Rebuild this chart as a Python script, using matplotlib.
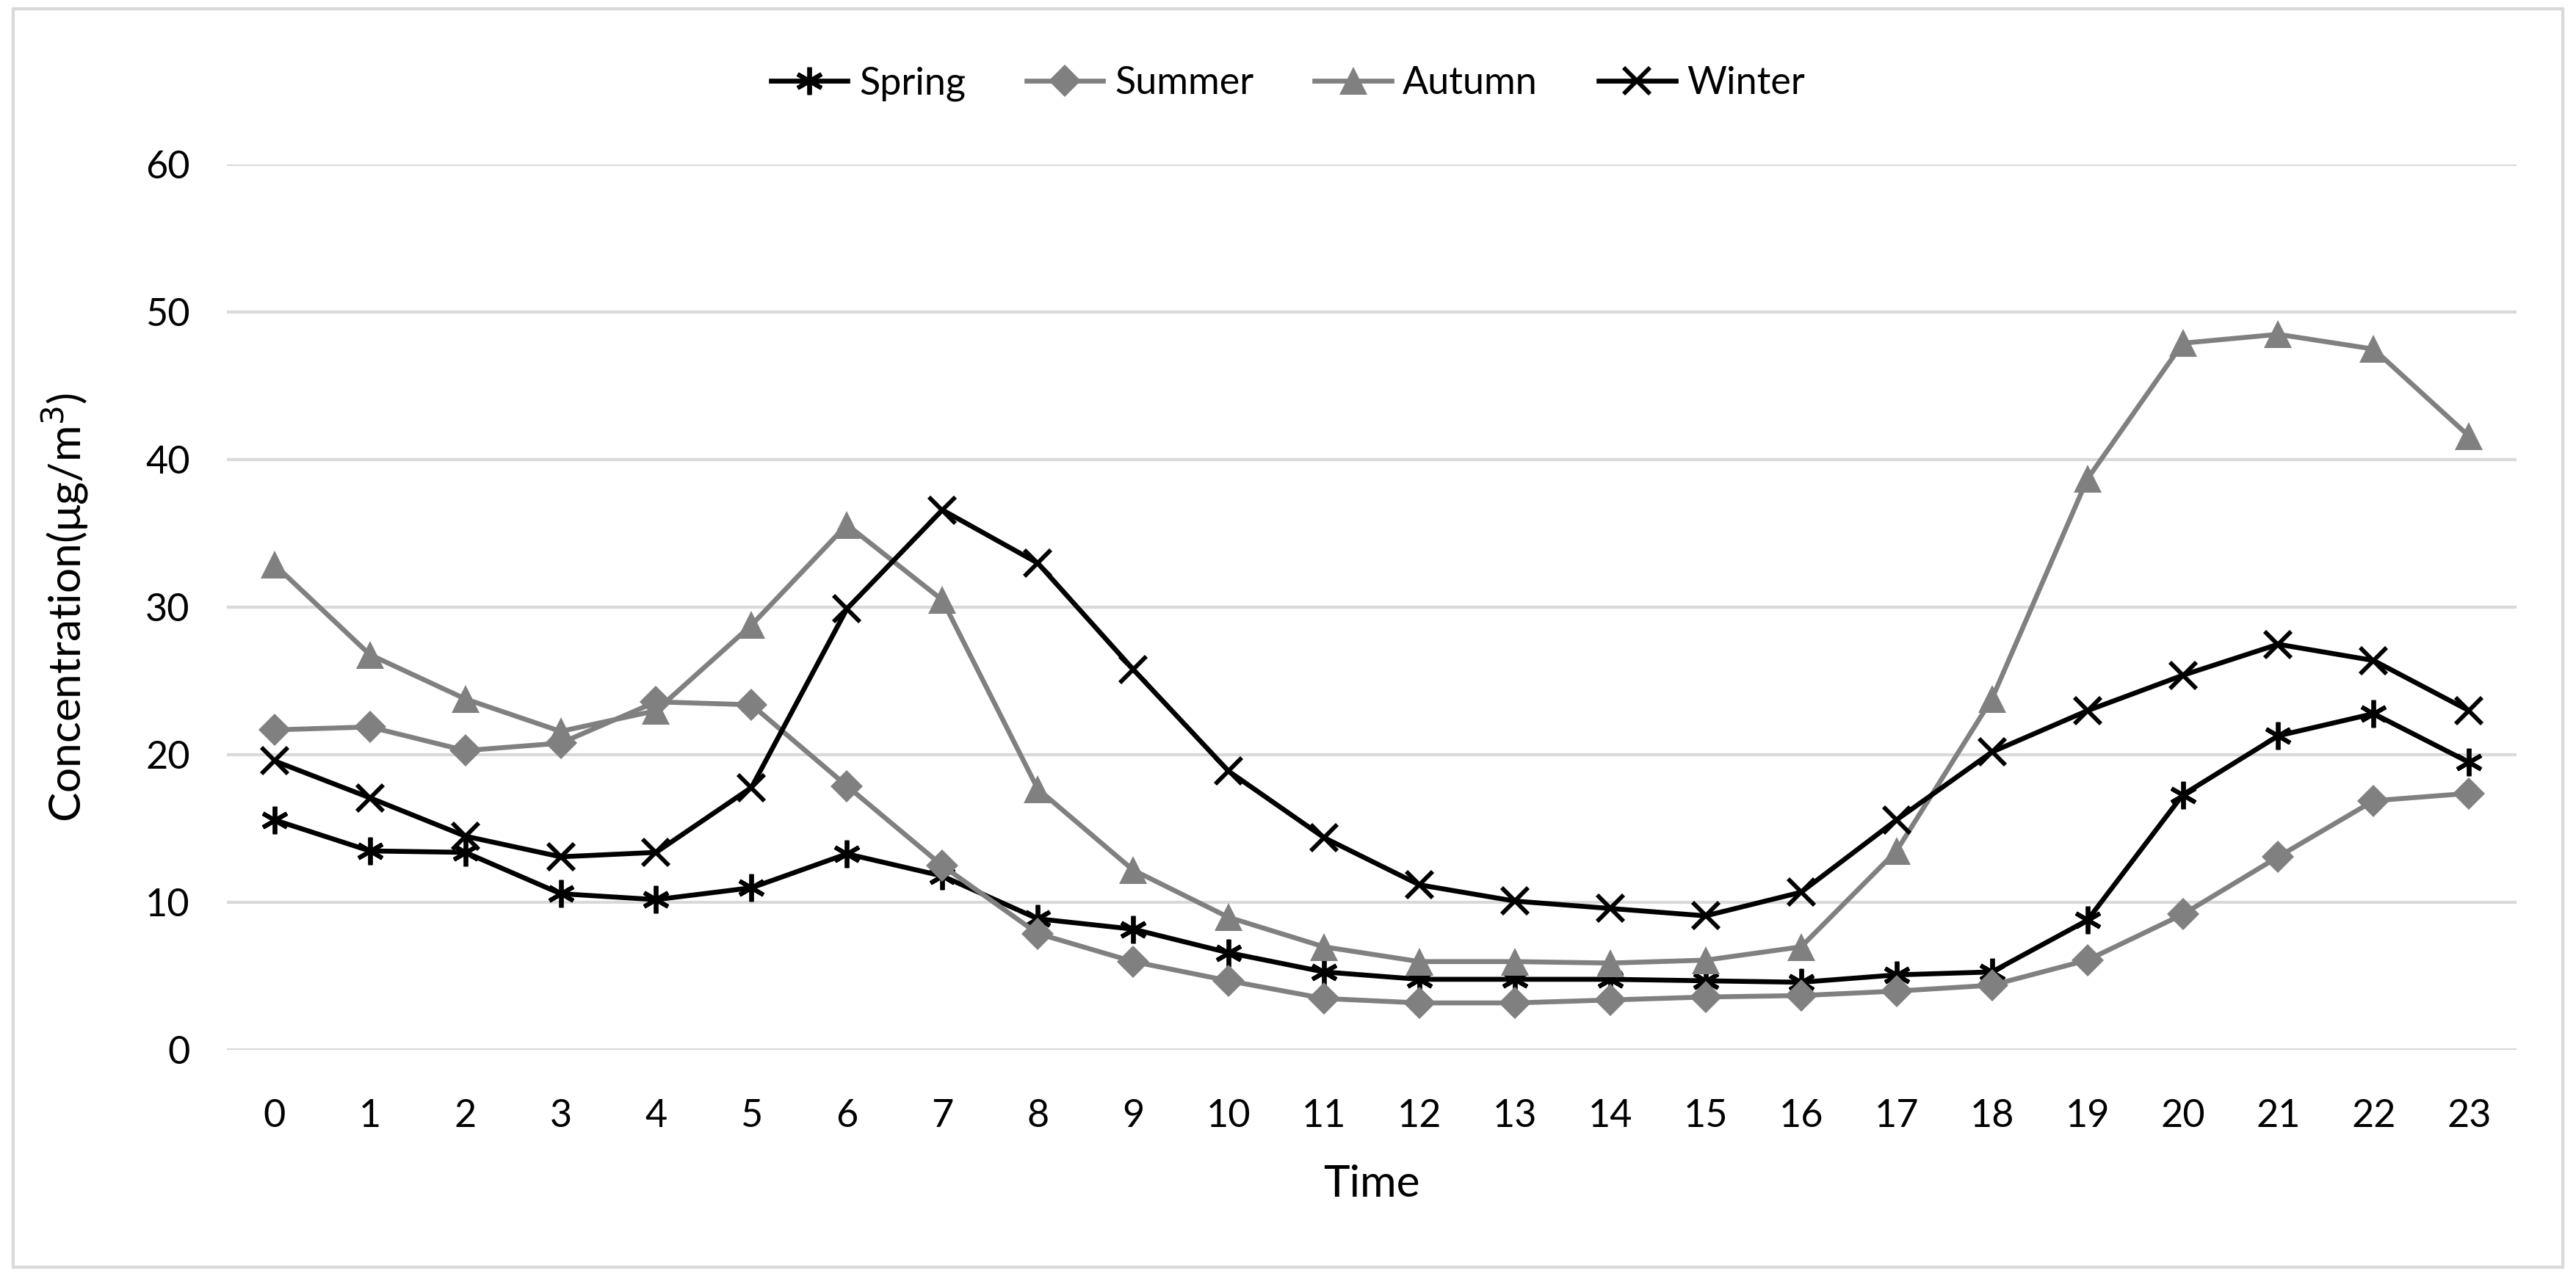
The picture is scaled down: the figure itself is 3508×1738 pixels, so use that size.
import matplotlib.pyplot as plt
from matplotlib.patches import Rectangle

plt.rcParams['font.family'] = ['Lato', 'DejaVu Sans']

hours = list(range(24))
spring = [15.6, 13.5, 13.4, 10.6, 10.2, 11.0, 13.3, 11.8, 8.9, 8.2, 6.6, 5.3,
          4.8, 4.8, 4.8, 4.7, 4.6, 5.1, 5.3, 8.8, 17.3, 21.3, 22.8, 19.5]
summer = [21.7, 21.9, 20.3, 20.8, 23.6, 23.4, 17.9, 12.5, 7.9, 6.0, 4.7, 3.5,
          3.2, 3.2, 3.4, 3.6, 3.7, 4.0, 4.4, 6.1, 9.2, 13.1, 16.9, 17.4]
autumn = [32.9, 26.8, 23.8, 21.6, 23.0, 28.8, 35.6, 30.5, 17.7, 12.2, 9.0, 7.0,
          6.0, 6.0, 5.9, 6.1, 7.0, 13.5, 23.8, 38.7, 47.9, 48.5, 47.5, 41.6]
winter = [19.6, 17.1, 14.5, 13.1, 13.4, 17.8, 29.9, 36.6, 33.0, 25.8, 18.9, 14.4,
          11.2, 10.1, 9.6, 9.1, 10.7, 15.6, 20.2, 23.0, 25.4, 27.5, 26.4, 23.0]

fig = plt.figure(figsize=(3508 / 300, 1738 / 300), dpi=300)
ax = fig.add_axes([0.088, 0.177, 0.889, 0.694])

grey = '#808080'
ax.plot(hours, spring, color='black', lw=1.6, marker=(6, 2, 0), ms=9, mew=1.4,
        label='Spring', zorder=3)
ax.plot(hours, summer, color=grey, lw=1.6, marker='D', ms=7.5, mew=0,
        label='Summer', zorder=3)
ax.plot(hours, autumn, color=grey, lw=1.6, marker='^', ms=9, mew=0,
        label='Autumn', zorder=3)
ax.plot(hours, winter, color='black', lw=1.6, marker='x', ms=8.5, mew=1.4,
        label='Winter', zorder=3)

ax.set_xlim(-0.5, 23.5)
ax.set_ylim(0, 60)
ax.set_xticks(hours)
ax.set_yticks(range(0, 61, 10))
ax.grid(axis='y', color='#d9d9d9', lw=1.0, zorder=0)
ax.set_axisbelow(True)
for s in ax.spines.values():
    s.set_visible(False)
ax.tick_params(axis='x', length=0, labelsize=12.5, pad=16)
ax.tick_params(axis='y', length=0, labelsize=12.5, pad=12)
ax.set_xlabel('Time', fontsize=14.5, labelpad=10)
ax.set_ylabel('Concentration(μg/m$^3$)', fontsize=14.5, labelpad=18)

fig.legend(loc='upper center', bbox_to_anchor=(0.5, 0.975), ncol=4, frameon=False,
           fontsize=12.5, handlelength=2.0, columnspacing=1.6, handletextpad=0.3)

fig.patches.append(Rectangle((0.005, 0.007), 0.99, 0.986, transform=fig.transFigure,
                             fill=False, edgecolor='#d9d9d9', lw=1.0))

fig.savefig('out.png', dpi=300)
